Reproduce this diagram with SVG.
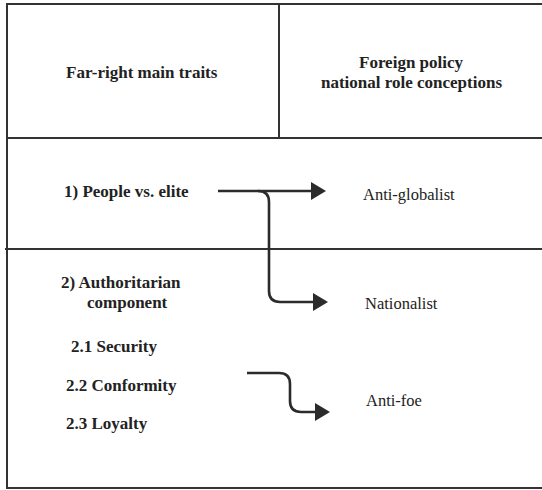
<svg xmlns="http://www.w3.org/2000/svg" width="542" height="490" viewBox="0 0 542 490">
<style>
.frame{fill:none;stroke:#333;stroke-width:2}
.con{fill:none;stroke:#2b2b2b;stroke-width:2.6;stroke-linejoin:round}
.b{font-family:'Liberation Serif','Times New Roman',Times,'DejaVu Serif',serif;font-weight:bold;font-size:17px;fill:#222}
.r{font-family:'Liberation Serif','Times New Roman',Times,'DejaVu Serif',serif;font-size:16.5px;fill:#222}
</style>
<defs>
<marker id="ah" markerUnits="userSpaceOnUse" markerWidth="16" markerHeight="20" refX="1" refY="9" orient="auto">
<path d="M0,0 L15,9 L0,18 z" fill="#2b2b2b"/>
</marker>
</defs>
<g id="table">
<path class="frame" d="M542,4 H7 V488 H542"/>
<path class="frame" d="M7,138 H542"/>
<path class="frame" d="M279,4 V138"/>
<path class="frame" d="M5,249 H542"/>
</g>
<g id="header-left"><text class="b" x="66" y="78">Far-right main traits</text></g>
<g id="header-right">
<text class="b" x="359" y="68">Foreign policy</text>
<text class="b" x="321" y="88">national role conceptions</text>
</g>
<g id="people"><text class="b" x="64" y="197">1) People vs. elite</text></g>
<g id="auth">
<text class="b" x="61" y="288">2) Authoritarian</text>
<text class="b" x="87" y="308">component</text>
<text class="b" x="71" y="352">2.1 Security</text>
<text class="b" x="66" y="391">2.2 Conformity</text>
<text class="b" x="66" y="429">2.3 Loyalty</text>
</g>
<g id="antiglobalist"><text class="r" x="363" y="200">Anti-globalist</text></g>
<g id="nationalist"><text class="r" x="365" y="309">Nationalist</text></g>
<g id="antifoe"><text class="r" x="366" y="406">Anti-foe</text></g>
<g id="connectors">
<path class="con" d="M218,191 H312" marker-end="url(#ah)"/>
<path class="con" d="M258,191 Q269,191 269,202 V291 Q269,302 280,302 H314" marker-end="url(#ah)"/>
<path class="con" d="M247,373 H279 Q290,373 290,384 V401 Q290,412 301,412 H316" marker-end="url(#ah)"/>
</g>
</svg>
